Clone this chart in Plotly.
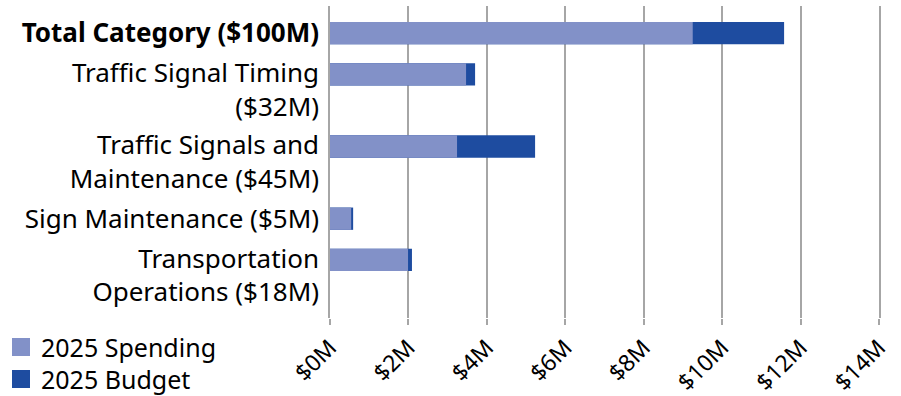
import plotly.graph_objects as go

categories = [
    "<b>Total Category ($100M)</b>",
    "Traffic Signal Timing<br>($32M)",
    "Traffic Signals and<br>Maintenance ($45M)",
    "Sign Maintenance ($5M)",
    "Transportation<br>Operations ($18M)",
]
spending = [9.25, 3.47, 3.24, 0.54, 1.99]   # $M
budget = [11.58, 3.70, 5.23, 0.59, 2.09]    # $M
series_names = ["2025 Spending", "2025 Budget"]
x_ticks = [0, 2, 4, 6, 8, 10, 12, 14]
x_tick_labels = ["$0M", "$2M", "$4M", "$6M", "$8M", "$10M", "$12M", "$14M"]

# vertical layout: each category occupies as many "line" units as its label has lines
GAP = 0.33
line_counts = [c.count("<br>") + 1 for c in categories]
tops = []
t = 0.0
for n in line_counts:
    tops.append(t)
    t += n + GAP
bar_pos = [tp + 0.5 for tp in tops]
label_pos = [tp + n / 2 for tp, n in zip(tops, line_counts)]

FONT = "Noto Sans"
C_SPEND = "#8291c8"
C_BUDGET = "#1e4ca0"
GRID = "#a6a6a6"
colors = [C_SPEND, C_BUDGET]

W, H = 901, 396
ML, MR, MT, MB = 330, 22, 6, 78
PW, PH = W - ML - MR, H - MT - MB


def px_x(px):
    return (px - ML) / PW


def px_y(py):
    return (H - MB - py) / PH


fig = go.Figure()
fig.add_trace(go.Bar(
    y=bar_pos, x=budget, orientation="h", name=series_names[1],
    marker=dict(color=C_BUDGET, line=dict(width=0)), width=0.72,
))
fig.add_trace(go.Bar(
    y=bar_pos, x=spending, orientation="h", name=series_names[0],
    marker=dict(color=C_SPEND, line=dict(width=0)), width=0.72,
))

# custom legend (larger swatches than plotly's default)
shapes = []
annotations = []
for i, (nm, col) in enumerate(zip(series_names, colors)):
    top = 338 + i * 32
    shapes.append(dict(
        type="rect", xref="paper", yref="paper",
        x0=px_x(12), x1=px_x(30), y0=px_y(top), y1=px_y(top + 18),
        fillcolor=col, line=dict(width=0),
    ))
    annotations.append(dict(
        xref="paper", yref="paper", x=px_x(40), y=px_y(top + 9),
        xanchor="left", yanchor="middle", text=nm, showarrow=False,
        borderpad=0,
        font=dict(family=FONT, size=25, color="#000000"),
    ))

fig.update_layout(
    width=W, height=H,
    margin=dict(l=ML, r=MR, t=MT, b=MB),
    barmode="overlay",
    plot_bgcolor="white", paper_bgcolor="white",
    font=dict(family=FONT, size=25, color="#000000"),
    xaxis=dict(
        range=[0, 14], tickvals=x_ticks, ticktext=x_tick_labels,
        tickangle=-45, tickfont=dict(size=23),
        showgrid=True, gridcolor=GRID, gridwidth=1.5,
        zeroline=False, showline=False,
        ticks="outside", ticklen=6, tickcolor=GRID, tickwidth=1.5,
        fixedrange=True, automargin=False,
    ),
    yaxis=dict(
        range=[t - GAP + 0.375, -0.375],
        tickvals=label_pos, ticktext=categories,
        showgrid=False, zeroline=False,
        showline=True, mirror=True, linecolor=GRID, linewidth=1.5,
        ticks="", ticklabelstandoff=4, automargin=False,
        tickfont=dict(size=26),
    ),
    showlegend=False,
    shapes=shapes,
    annotations=annotations,
)

fig.write_html("out.html")
